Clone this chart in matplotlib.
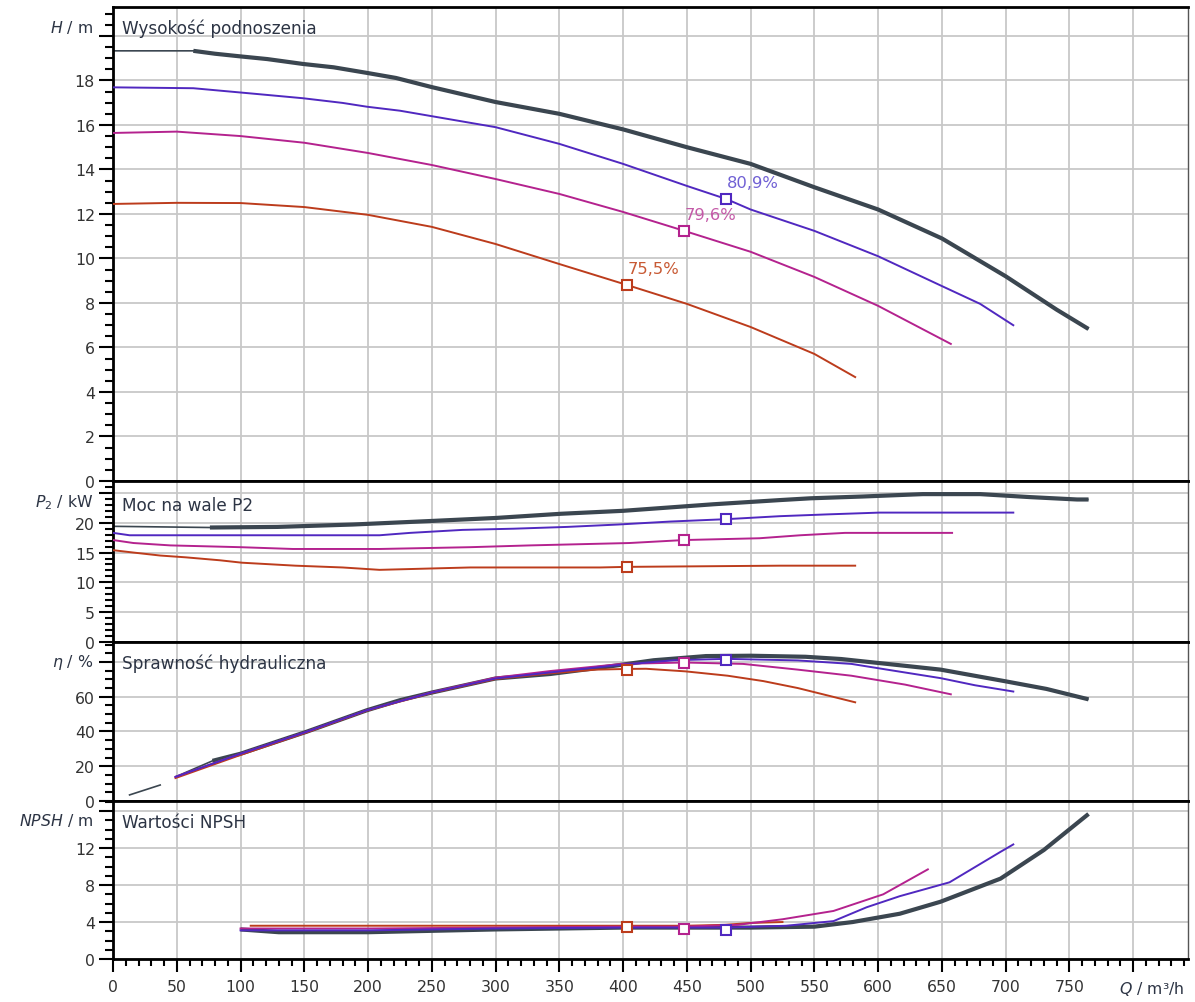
import numpy as np
import matplotlib.pyplot as plt

plt.rcParams['font.family'] = ['DejaVu Sans']
plt.rcParams['mathtext.fontset'] = 'dejavusans'

# ---- pump curves (Q in m3/h) ----
# head H / m
q_h_dark = [0, 63, 80, 100, 121, 149, 173, 199, 222, 250, 300, 350, 400, 450, 500, 550, 600, 650, 700, 740, 765]
h_dark = [19.33, 19.33, 19.2, 19.08, 18.96, 18.74, 18.59, 18.34, 18.11, 17.7, 17.03, 16.5, 15.8, 15.0, 14.25, 13.2, 12.2, 10.9, 9.2, 7.7, 6.83]
q_h_blue = [0, 63, 113, 149, 180, 199, 225, 300, 350, 400, 450, 481, 500, 550, 600, 650, 680, 706]
h_blue = [17.69, 17.65, 17.39, 17.2, 16.99, 16.82, 16.64, 15.9, 15.15, 14.25, 13.26, 12.67, 12.2, 11.24, 10.1, 8.76, 7.96, 7.0]
q_h_mag = [0, 50, 100, 150, 200, 250, 300, 350, 400, 448, 500, 550, 600, 657]
h_mag = [15.64, 15.7, 15.5, 15.2, 14.74, 14.2, 13.57, 12.9, 12.09, 11.24, 10.3, 9.17, 7.87, 6.16]
q_h_red = [0, 50, 100, 150, 200, 250, 300, 350, 403, 450, 500, 550, 582]
h_red = [12.45, 12.5, 12.49, 12.31, 11.96, 11.42, 10.65, 9.75, 8.81, 7.96, 6.92, 5.71, 4.67]

# shaft power P2 / kW
q_p_dark = [0, 76, 129, 188, 250, 300, 351, 400, 471, 523, 547, 588, 635, 680, 719, 756, 765]
p_dark = [19.4, 19.2, 19.3, 19.7, 20.3, 20.8, 21.5, 22.0, 23.1, 23.8, 24.1, 24.4, 24.8, 24.8, 24.3, 23.9, 23.9]
q_p_blue = [0, 13, 100, 209, 233, 274, 314, 356, 396, 437, 481, 523, 560, 601, 706]
p_blue = [18.3, 17.9, 17.9, 17.9, 18.3, 18.8, 19.0, 19.3, 19.7, 20.2, 20.6, 21.1, 21.4, 21.7, 21.7]
q_p_mag = [0, 16, 45, 100, 141, 209, 280, 327, 405, 448, 507, 539, 574, 658]
p_mag = [17.1, 16.6, 16.2, 15.9, 15.6, 15.6, 15.9, 16.2, 16.6, 17.1, 17.4, 17.9, 18.3, 18.3]
q_p_red = [0, 16, 37, 57, 84, 101, 143, 180, 209, 280, 382, 403, 523, 582]
p_red = [15.4, 15.0, 14.5, 14.2, 13.7, 13.3, 12.8, 12.5, 12.1, 12.5, 12.5, 12.6, 12.8, 12.8]

# hydraulic efficiency eta / %
q_e_start = [13, 37]
e_start = [3.5, 9.2]
q_e_dark = [49, 78, 100, 152, 199, 225, 250, 300, 343, 390, 424, 465, 500, 543, 571, 607, 649, 699, 732, 765]
e_dark = [13.9, 23.1, 27.2, 39.9, 52.2, 58, 62.4, 70.5, 73.1, 77.5, 81, 83.4, 83.6, 83, 81.7, 78.9, 75.6, 69, 64.5, 58.5]
q_e_blue = [49, 100, 152, 199, 250, 300, 343, 400, 440, 481, 537, 579, 607, 649, 676, 706]
e_blue = [13.9, 27.2, 39.9, 52.2, 62.4, 70.5, 74, 78.5, 81, 81.8, 80.9, 78.9, 75.6, 70.7, 66.6, 63.0]
q_e_mag = [49, 100, 152, 199, 250, 300, 343, 399, 448, 494, 537, 579, 621, 657]
e_mag = [13.9, 27.2, 39.9, 52.2, 62.6, 71, 74.8, 78.9, 79.7, 78.9, 75.6, 72.1, 67, 61.4]
q_e_red = [49, 100, 152, 199, 250, 300, 343, 379, 403, 418, 449, 482, 510, 537, 582]
e_red = [13.2, 26.5, 39.5, 52, 62.2, 70.2, 73.5, 75.6, 76.0, 76.1, 74.6, 72.1, 69, 65, 56.8]

# NPSH / m
q_n_dark = [100, 130, 200, 300, 400, 500, 550, 580, 617, 649, 696, 730, 765]
n_dark = [3.2, 2.9, 2.9, 3.2, 3.4, 3.4, 3.5, 4.0, 4.9, 6.2, 8.7, 11.8, 15.7]
q_n_blue = [100, 200, 300, 400, 481, 528, 565, 591, 617, 656, 696, 706]
n_blue = [3.1, 3.1, 3.3, 3.4, 3.4, 3.6, 4.1, 5.6, 6.8, 8.3, 11.6, 12.4]
q_n_mag = [100, 200, 300, 400, 448, 490, 525, 565, 604, 639]
n_mag = [3.3, 3.3, 3.4, 3.5, 3.5, 3.7, 4.3, 5.2, 7.0, 9.7]
q_n_red = [108, 200, 300, 400, 450, 480, 500, 525]
n_red = [3.6, 3.6, 3.6, 3.6, 3.6, 3.7, 3.9, 4.0]

# duty points (red, magenta, blue)
op_q = [403, 448, 481]
op_h = [8.81, 11.24, 12.67]
op_p = [12.6, 17.1, 20.6]
op_eta = [75.5, 79.6, 80.9]
op_npsh = [3.5, 3.2, 3.1]
op_labels = ['75,5%', '79,6%', '80,9%']

x_major = list(range(0, 801, 50))
x_labels = [str(v) for v in x_major[:-1]] + ['']

# ---- style ----
DARK = '#3b4650'
BLUE = '#5028c0'
MAG = '#b4228e'
RED = '#bc3c1c'
op_colors = [RED, MAG, BLUE]
label_colors = ['#c85a34', '#c45aa8', '#7060d4']
GRID = '#c8c8c8'
TXT = '#333333'
FS = 11.3

W, HP = 1195, 1003
fig = plt.figure(figsize=(W / 100, HP / 100), dpi=100)


def panel(top, bottom):
    ax = fig.add_axes([113 / W, 1 - bottom / HP, (1188 - 113) / W, (bottom - top) / HP])
    ax.set_xlim(0, 843)
    ax.set_xticks(x_major)
    ax.set_xticks(range(0, 841, 10), minor=True)
    ax.set_axisbelow(True)
    ax.grid(True, which='major', color=GRID, lw=1.3)
    for s in ['top', 'bottom', 'left']:
        ax.spines[s].set_color('black')
        ax.spines[s].set_linewidth(2)
    ax.spines['right'].set_color('#555555')
    ax.spines['right'].set_linewidth(1)
    ax.tick_params(axis='y', which='major', direction='out', length=10, width=1.5,
                   pad=3, labelsize=FS, labelcolor=TXT)
    ax.tick_params(axis='y', which='minor', direction='out', length=6, width=1.5)
    ax.tick_params(axis='x', which='both', length=0, labelbottom=False)
    return ax


def yaxis(ax, top, step, minor, ymax):
    ticks = list(np.arange(0, top + step / 2, step))
    ax.set_ylim(0, ymax)
    ax.set_yticks(ticks)
    ax.set_yticklabels([f'{t:g}' for t in ticks[:-1]] + [''])
    ax.set_yticks(np.arange(0, ymax, minor), minor=True)


def thick_thin(ax, q, v, q_thick, lw=3):
    q = np.array(q)
    v = np.array(v)
    ax.plot(q, v, color=DARK, lw=1.2, solid_capstyle='butt', zorder=2)
    m = q >= q_thick
    ax.plot(q[m], v[m], color=DARK, lw=lw, solid_capstyle='butt', zorder=2)


def markers(ax, vals):
    for q, v, c in zip(op_q, vals, op_colors):
        ax.plot(q, v, 's', ms=7, mfc='white', mec=c, mew=1.5, zorder=5)


# H panel
ax1 = panel(8, 482)
yaxis(ax1, 20, 2, 0.5, 21.3)
thick_thin(ax1, q_h_dark, h_dark, 63)
ax1.plot(q_h_blue, h_blue, color=BLUE, lw=1.4, zorder=3)
ax1.plot(q_h_mag, h_mag, color=MAG, lw=1.4, zorder=3)
ax1.plot(q_h_red, h_red, color=RED, lw=1.4, zorder=3)
markers(ax1, op_h)
for q, v, t, c in zip(op_q, op_h, op_labels, label_colors):
    ax1.annotate(t, (q, v), xytext=(0.5, 12), textcoords='offset points',
                 ha='left', va='center', fontsize=11.8, color=c, zorder=6)

# P2 panel
ax2 = panel(482, 643)
yaxis(ax2, 25, 5, 1, 27.0)
thick_thin(ax2, q_p_dark, p_dark, 76)
ax2.plot(q_p_blue, p_blue, color=BLUE, lw=1.4, zorder=3)
ax2.plot(q_p_mag, p_mag, color=MAG, lw=1.4, zorder=3)
ax2.plot(q_p_red, p_red, color=RED, lw=1.4, zorder=3)
markers(ax2, op_p)

# efficiency panel
ax3 = panel(643, 802)
yaxis(ax3, 80, 20, 5, 91.5)
ax3.plot(q_e_start, e_start, color=DARK, lw=1.2, zorder=2)
thick_thin(ax3, q_e_dark, e_dark, 78)
ax3.plot(q_e_red, e_red, color=RED, lw=1.4, zorder=3)
ax3.plot(q_e_mag, e_mag, color=MAG, lw=1.4, zorder=3)
ax3.plot(q_e_blue, e_blue, color=BLUE, lw=1.4, zorder=3)
markers(ax3, op_eta)

# NPSH panel
ax4 = panel(802, 960)
yaxis(ax4, 16, 4, 1, 17.1)
ax4.plot(q_n_dark, n_dark, color=DARK, lw=3, solid_capstyle='butt', zorder=2)
ax4.plot(q_n_red, n_red, color=RED, lw=1.4, zorder=3)
ax4.plot(q_n_mag, n_mag, color=MAG, lw=1.4, zorder=3)
ax4.plot(q_n_blue, n_blue, color=BLUE, lw=1.4, zorder=3)
markers(ax4, op_npsh)
ax4.set_xticklabels(x_labels)
ax4.tick_params(axis='x', which='major', direction='out', length=9.5, width=1.5,
                pad=5, labelsize=FS, labelcolor=TXT, labelbottom=True)
ax4.tick_params(axis='x', which='minor', direction='out', length=5, width=1.5)

# axis names and panel titles
LBL = '#2c3444'
for y, s in [(27, r'$H$ / m'), (503, r'$P_2$ / kW'), (663, r'$\eta$ / %'), (821, r'$NPSH$ / m')]:
    fig.text(93 / W, 1 - y / HP, s, ha='right', va='center', fontsize=FS, color=LBL)
for y, s in [(29, 'Wysokość podnoszenia'), (506, 'Moc na wale P2'),
             (664, 'Sprawność hydrauliczna'), (823, 'Wartości NPSH')]:
    fig.text(122 / W, 1 - y / HP, s, ha='left', va='center', fontsize=12.2, color=LBL)
fig.text(1184 / W, 1 - 989 / HP, r'$Q$ / m³/h', ha='right', va='center', fontsize=FS, color=LBL)

fig.savefig('out.png', dpi=100, facecolor='white')
